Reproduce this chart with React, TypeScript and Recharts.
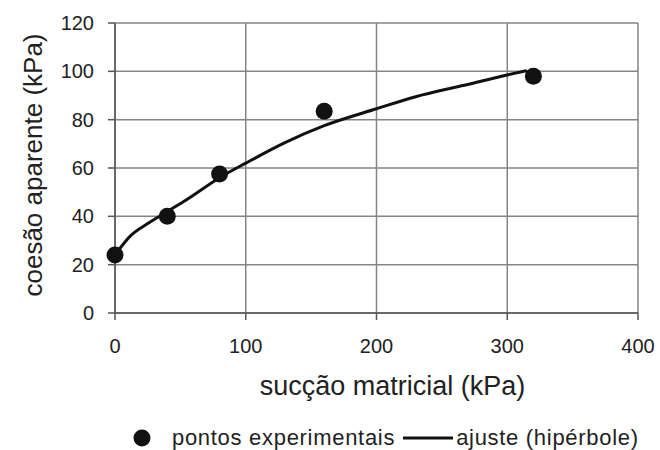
import {
  ComposedChart,
  Line,
  Scatter,
  XAxis,
  YAxis,
  CartesianGrid,
  Legend,
} from "recharts";

// measured points (kPa)
const suctionPts = [0, 40, 80, 160, 320];
const cohesionPts = [24, 40, 57.5, 83.5, 98];

// fitted hyperbola
const fitSuction = [0, 12, 25, 40, 55, 80, 100, 130, 160, 200, 230, 265, 300, 315];
const fitCohesion = [24, 32, 37, 42, 47, 56, 62, 70.5, 77.5, 84.5, 89.5, 94, 98.5, 100.3];

const xTicks = [0, 100, 200, 300, 400];
const yTicks = [0, 20, 40, 60, 80, 100, 120];

const seriesNames = ["pontos experimentais", "ajuste (hipérbole)"];

const points = suctionPts.map((s, i) => ({ s, c: cohesionPts[i] }));
const fit = fitSuction.map((s, i) => ({ s, c: fitCohesion[i] }));

const FONT = "'Liberation Sans', Arial, sans-serif";
const INK = "#111";

function LegendRow() {
  return (
    <div
      style={{
        display: "flex",
        alignItems: "center",
        paddingLeft: 133,
        fontFamily: FONT,
        fontSize: 22,
        color: "#222",
        letterSpacing: 0.7,
        whiteSpace: "nowrap",
      }}
    >
      <svg width={18} height={18} style={{ marginRight: 21 }}>
        <circle cx={9} cy={9} r={8.5} fill={INK} />
      </svg>
      <span>{seriesNames[0]}</span>
      <svg width={50} height={6} style={{ marginLeft: 8, marginRight: 3 }}>
        <line x1={0} y1={3} x2={50} y2={3} stroke={INK} strokeWidth={3} />
      </svg>
      <span>{seriesNames[1]}</span>
    </div>
  );
}

export default function App() {
  return (
    <div style={{ position: "absolute", left: 0, top: 0, background: "#fff" }}>
      <ComposedChart
        width={660}
        height={450}
        margin={{ top: 23, right: 22, bottom: 0, left: 0 }}
        style={{ fontFamily: FONT }}
      >
        <CartesianGrid stroke="#858585" strokeWidth={1.5} />
        <XAxis
          type="number"
          dataKey="s"
          domain={[0, 400]}
          ticks={xTicks}
          height={137}
          tickSize={7}
          tickMargin={19}
          tick={{ fill: "#222", fontSize: 20 }}
          axisLine={{ stroke: "#555", strokeWidth: 1.5 }}
          tickLine={{ stroke: "#555", strokeWidth: 1.5 }}
          label={{
            value: "sucção matricial (kPa)",
            position: "insideTop",
            offset: 63,
            dx: 16,
            style: { fill: "#222", fontSize: 27 },
          }}
        />
        <YAxis
          type="number"
          domain={[0, 120]}
          ticks={yTicks}
          width={115}
          tickSize={7}
          tickMargin={14}
          tick={{ fill: "#222", fontSize: 20 }}
          axisLine={{ stroke: "#555", strokeWidth: 1.5 }}
          tickLine={{ stroke: "#555", strokeWidth: 1.5 }}
          label={({ viewBox }: any) => {
            const cx = 33;
            const cy = viewBox.y + viewBox.height / 2 - 3;
            return (
              <text
                x={cx}
                y={cy}
                transform={`rotate(-90, ${cx}, ${cy})`}
                textAnchor="middle"
                dominantBaseline="central"
                fill="#222"
                fontSize={26}
              >
                coesão aparente (kPa)
              </text>
            );
          }}
        />
        <Legend
          layout="horizontal"
          verticalAlign="middle"
          align="center"
          wrapperStyle={{ position: "absolute", top: 425, left: 0, width: 660 }}
          content={() => <LegendRow />}
        />
        <Line
          data={fit}
          dataKey="c"
          name={seriesNames[1]}
          type="monotone"
          stroke={INK}
          strokeWidth={3}
          dot={false}
          activeDot={false}
          isAnimationActive={false}
        />
        <Scatter
          data={points}
          dataKey="c"
          name={seriesNames[0]}
          isAnimationActive={false}
          shape={(p: any) => <circle cx={p.cx} cy={p.cy} r={8.5} fill={INK} />}
        />
      </ComposedChart>
    </div>
  );
}
